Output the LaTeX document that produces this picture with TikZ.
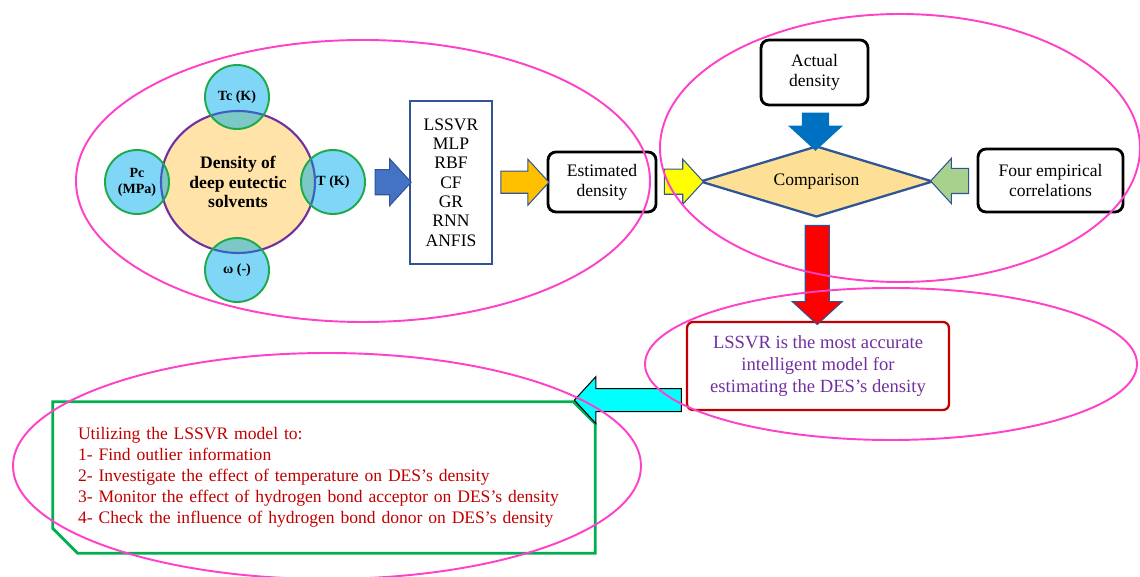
\documentclass[tikz,border=0pt]{standalone}
\usepackage{fontspec}
\setmainfont{Liberation Serif}
\usetikzlibrary{shapes.geometric,shapes.arrows,calc}

\definecolor{grouppink}{HTML}{FF40C8}
\definecolor{corepeach}{HTML}{FFE3A8}
\definecolor{corepurple}{HTML}{7030A0}
\definecolor{coreblue}{HTML}{3F5FC0}
\definecolor{propblue}{HTML}{80D6F6}
\definecolor{propteal}{HTML}{7CC8C6}
\definecolor{propgreen}{HTML}{1DAA4B}
\definecolor{edgeblue}{HTML}{2F5597}
\definecolor{arrowblue}{HTML}{4472C4}
\definecolor{arroworange}{HTML}{FFC000}
\definecolor{arrowyellow}{HTML}{FFFF00}
\definecolor{arrowdown}{HTML}{0070C0}
\definecolor{arrowgreen}{HTML}{A9D18E}
\definecolor{arrowred}{HTML}{FF0000}
\definecolor{arrowcyan}{HTML}{00FFFF}
\definecolor{diamondgold}{HTML}{FDE096}
\definecolor{bestred}{HTML}{C00000}
\definecolor{besttext}{HTML}{7030A0}
\definecolor{usesgreen}{HTML}{00B050}

\tikzset{
  group/.style={draw=grouppink, line width=1.1pt},
  core/.style={ellipse, draw=corepurple, line width=1.2pt, fill=corepeach,
    minimum width=3.08cm, minimum height=2.84cm, inner sep=0pt, align=center,
    font=\bfseries\fontsize{10}{11}\selectfont},
  prop/.style={circle, draw=propgreen, line width=1.1pt, fill=propblue,
    minimum size=1.28cm, inner sep=0pt, align=center,
    font=\bfseries\fontsize{8}{9}\selectfont,
    path picture={
      \fill[propteal] (dens.center) ellipse [x radius=1.54cm, y radius=1.42cm];
      \draw[coreblue, line width=1.2pt] (dens.center) ellipse [x radius=1.54cm, y radius=1.42cm];
    }},
  models/.style={rectangle, draw=edgeblue, line width=1.3pt, minimum width=1.64cm,
    minimum height=3.26cm, align=center, font=\fontsize{10}{11}\selectfont},
  result/.style={rectangle, rounded corners=0.16cm, draw=black, line width=1.6pt,
    align=center, font=\fontsize{10}{11.5}\selectfont},
  compare/.style={diamond, shape aspect=3.3, draw=edgeblue, line width=1.3pt, fill=diamondgold,
    minimum width=4.66cm, minimum height=1.42cm, inner sep=0pt, font=\fontsize{10}{11}\selectfont},
  best/.style={rectangle, rounded corners=0.12cm, draw=bestred, line width=1.3pt,
    minimum width=5.24cm, minimum height=1.76cm, align=center, text=besttext,
    font=\fontsize{10.6}{12.4}\selectfont},
  uses/.style={rectangle, minimum height=3.02cm, text width=9.84cm, inner xsep=0.5cm,
    align=left, text=bestred, font=\fontsize{10}{11.9}\selectfont},
  usesline/.style={draw=usesgreen, line width=1.6pt},
  blockarrow/.style={single arrow, draw=edgeblue, line width=0.6pt, inner xsep=0pt,
    inner ysep=0.24cm, single arrow head extend=0.22cm, single arrow tip angle=95},
  downarrow/.style={blockarrow, shape border rotate=270, inner ysep=0pt, inner xsep=#1},
}

\begin{document}
\begin{tikzpicture}[x=0.02cm, y=-0.02cm]
  \useasboundingbox (0,0) rectangle (1140,577);

  % inputs around the property
  \node[core] (dens) at (238,182) {Density of\\deep eutectic\\solvents};
  \node[prop] (tc) at (237,97) {Tc (K)};
  \node[prop] (pc) at (137,182) {Pc\\(MPa)};
  \node[prop] (t) at (333,182) {T (K)};
  \node[prop] (om) at (237,270) {ω (-)};

  % models and outputs
  \node[models] (models) at (451,182.5) {LSSVR\\MLP\\RBF\\CF\\GR\\RNN\\ANFIS};
  \node[result, minimum width=2.16cm, minimum height=1.2cm] (est) at (602,182) {Estimated\\density};
  \node[compare] (comp) at (816.5,181.5) {Comparison};
  \node[result, minimum width=2.14cm, minimum height=1.3cm] (actual) at (814.5,72.5) {Actual\\density};
  \node[result, minimum width=2.9cm, minimum height=1.26cm] (four) at (1050.5,180.5) {Four empirical\\correlations};
  \node[best] (lssvr) at (818,366) {LSSVR is the most accurate\\intelligent model for\\estimating the DES’s density};
  \node[uses] (uses) at (324,477.5) {Utilizing the LSSVR model to:\\
    1- Find outlier information\\
    2- Investigate the effect of temperature on DES’s density\\
    3- Monitor the effect of hydrogen bond acceptor on DES’s density\\
    4- Check the influence of hydrogen bond donor on DES’s density};
  \draw[usesline] (uses.north west) -- ($(uses.north east)+(-22,0)$)
    -- ($(uses.north east)+(0,22)$) -- (uses.south east)
    -- ($(uses.south west)+(25,0)$) -- ($(uses.south west)+(0,-25)$) -- cycle;

  % block arrows
  \node[blockarrow, fill=arrowblue, minimum height=0.72cm] (a1) at ($(t.east)!0.5!(models.west)$) {};
  \node[blockarrow, fill=arroworange, minimum height=0.96cm, inner ysep=0.21cm,
    single arrow head extend=0.24cm] (a2) at ($(models.east)!0.5!(est.west)$) {};
  \node[blockarrow, fill=arrowyellow, minimum height=0.78cm, single arrow head extend=0.2cm]
    (a3) at ($(est.east)!0.5!(comp.west)$) {};
  \node[downarrow=0.25cm, fill=arrowdown, draw=arrowdown, minimum height=0.74cm,
    single arrow head extend=0.26cm] (a4) at ($(actual.south)!0.5!(comp.north)$) {};
  \node[blockarrow, fill=arrowgreen, minimum height=0.76cm, single arrow head extend=0.2cm,
    shape border rotate=180] (a5) at ($(four.west)!0.5!(comp.east)$) {};
  \node[downarrow=0.23cm, fill=arrowred, minimum height=1.98cm,
    single arrow head extend=0.26cm] (a6) at ($(comp.south)!0.5!(lssvr.north)$) {};
  \node[blockarrow, fill=arrowcyan, draw=black, minimum height=2.14cm, inner ysep=0.22cm,
    single arrow head extend=0.24cm, shape border rotate=180, anchor=tail] (a7)
    at ($(lssvr.south west)+(-4,-11)$) {};

  % groups
  \draw[group] (363,181) ellipse [x radius=287, y radius=141];
  \draw[group] (900,148) ellipse [x radius=240, y radius=134];
  \draw[group] (891,364) ellipse [x radius=246, y radius=76];
  \draw[group] (327,466) ellipse [x radius=314, y radius=113];
\end{tikzpicture}
\end{document}
